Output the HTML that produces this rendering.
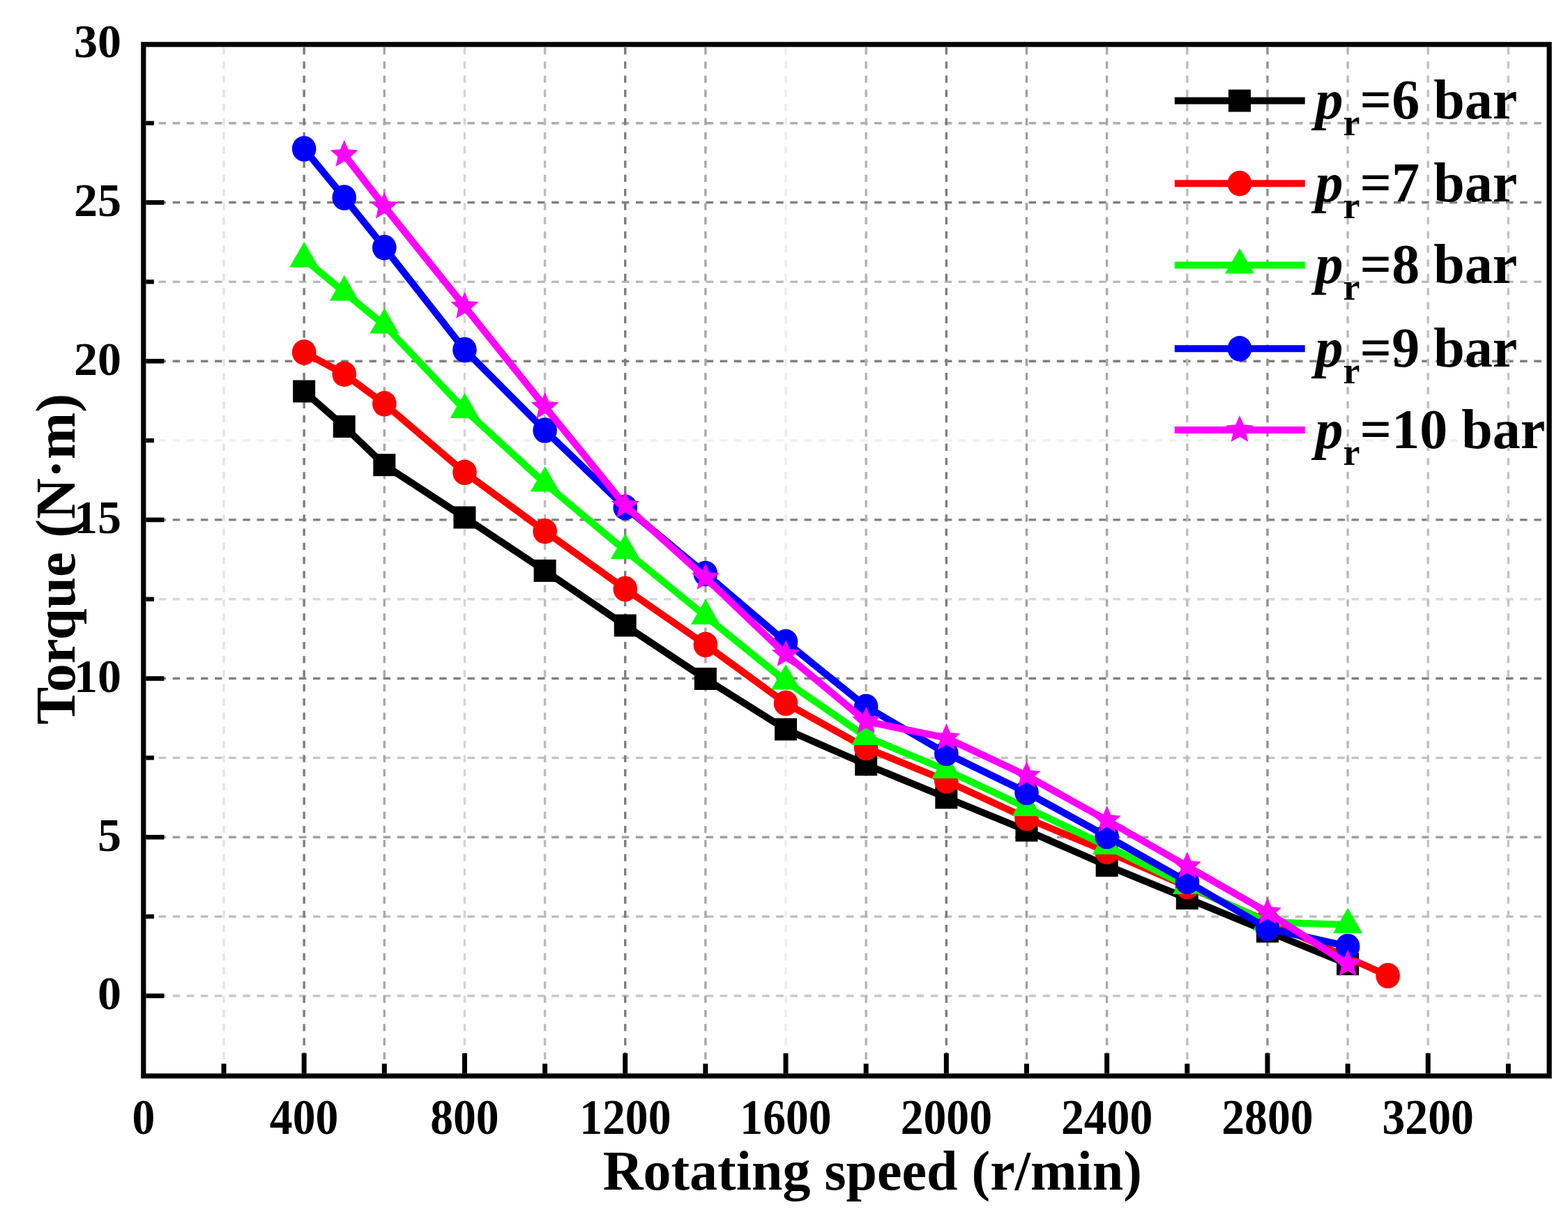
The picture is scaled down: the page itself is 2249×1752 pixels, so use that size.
<!DOCTYPE html>
<html><head><meta charset="utf-8"><title>Torque vs Rotating speed</title>
<style>
html,body{margin:0;padding:0;background:#fff;}
svg{display:block;}
text{font-family:"Liberation Serif","Times New Roman",serif;font-weight:bold;fill:#000;}
</style></head><body>
<svg width="2249" height="1752" viewBox="0 0 2249 1752">
<rect x="0" y="0" width="2249" height="1752" fill="#fff"/>
<g fill="none" stroke-width="3.4">
<line x1="209.4" y1="176.69" x2="2218.5" y2="176.69" stroke="#acacac" stroke-dasharray="10.5 9.63" stroke-dashoffset="2.0"/>
<line x1="209.4" y1="290.53" x2="2218.5" y2="290.53" stroke="#808080" stroke-dasharray="10.5 9.63" stroke-dashoffset="2.0"/>
<line x1="209.4" y1="404.37" x2="2218.5" y2="404.37" stroke="#b8b8b8" stroke-dasharray="10.5 9.63" stroke-dashoffset="2.0"/>
<line x1="209.4" y1="518.21" x2="2218.5" y2="518.21" stroke="#808080" stroke-dasharray="10.5 9.63" stroke-dashoffset="2.0"/>
<line x1="209.4" y1="632.05" x2="2218.5" y2="632.05" stroke="#f0f0f0" stroke-dasharray="10.5 9.63" stroke-dashoffset="2.0"/>
<line x1="209.4" y1="745.89" x2="2218.5" y2="745.89" stroke="#808080" stroke-dasharray="10.5 9.63" stroke-dashoffset="2.0"/>
<line x1="209.4" y1="859.73" x2="2218.5" y2="859.73" stroke="#d8d8d8" stroke-dasharray="10.5 9.63" stroke-dashoffset="2.0"/>
<line x1="209.4" y1="973.57" x2="2218.5" y2="973.57" stroke="#808080" stroke-dasharray="10.5 9.63" stroke-dashoffset="2.0"/>
<line x1="209.4" y1="1087.41" x2="2218.5" y2="1087.41" stroke="#c4c4c4" stroke-dasharray="10.5 9.63" stroke-dashoffset="2.0"/>
<line x1="209.4" y1="1201.25" x2="2218.5" y2="1201.25" stroke="#a0a0a0" stroke-dasharray="10.5 9.63" stroke-dashoffset="2.0"/>
<line x1="209.4" y1="1315.09" x2="2218.5" y2="1315.09" stroke="#bcbcbc" stroke-dasharray="10.5 9.63" stroke-dashoffset="2.0"/>
<line x1="209.4" y1="1428.93" x2="2218.5" y2="1428.93" stroke="#c8c8c8" stroke-dasharray="10.5 9.63" stroke-dashoffset="2.0"/>
<line x1="321.00" y1="67.9" x2="321.00" y2="1540.3" stroke="#e4e4e4" stroke-dasharray="10.3 10.01"/>
<line x1="436.15" y1="67.9" x2="436.15" y2="1540.3" stroke="#7e7e7e" stroke-dasharray="10.3 10.01"/>
<line x1="551.30" y1="67.9" x2="551.30" y2="1540.3" stroke="#a8a8a8" stroke-dasharray="10.3 10.01"/>
<line x1="666.45" y1="67.9" x2="666.45" y2="1540.3" stroke="#d4d4d4" stroke-dasharray="10.3 10.01"/>
<line x1="781.60" y1="67.9" x2="781.60" y2="1540.3" stroke="#bcbcbc" stroke-dasharray="10.3 10.01"/>
<line x1="896.75" y1="67.9" x2="896.75" y2="1540.3" stroke="#7e7e7e" stroke-dasharray="10.3 10.01"/>
<line x1="1011.90" y1="67.9" x2="1011.90" y2="1540.3" stroke="#a8a8a8" stroke-dasharray="10.3 10.01"/>
<line x1="1127.05" y1="67.9" x2="1127.05" y2="1540.3" stroke="#ededed" stroke-dasharray="10.3 10.01"/>
<line x1="1242.20" y1="67.9" x2="1242.20" y2="1540.3" stroke="#b4b4b4" stroke-dasharray="10.3 10.01"/>
<line x1="1357.35" y1="67.9" x2="1357.35" y2="1540.3" stroke="#7e7e7e" stroke-dasharray="10.3 10.01"/>
<line x1="1472.50" y1="67.9" x2="1472.50" y2="1540.3" stroke="#a0a0a0" stroke-dasharray="10.3 10.01"/>
<line x1="1587.65" y1="67.9" x2="1587.65" y2="1540.3" stroke="#a8a8a8" stroke-dasharray="10.3 10.01"/>
<line x1="1702.80" y1="67.9" x2="1702.80" y2="1540.3" stroke="#bcbcbc" stroke-dasharray="10.3 10.01"/>
<line x1="1817.95" y1="67.9" x2="1817.95" y2="1540.3" stroke="#909090" stroke-dasharray="10.3 10.01"/>
<line x1="1933.10" y1="67.9" x2="1933.10" y2="1540.3" stroke="#b8b8b8" stroke-dasharray="10.3 10.01"/>
<line x1="2048.25" y1="67.9" x2="2048.25" y2="1540.3" stroke="#c0c0c0" stroke-dasharray="10.3 10.01"/>
<line x1="2163.40" y1="67.9" x2="2163.40" y2="1540.3" stroke="#c4c4c4" stroke-dasharray="10.3 10.01"/>
</g>
<g fill="#000">
<rect x="209.4" y="1425.63" width="26" height="6.6"/>
<rect x="209.4" y="1197.95" width="26" height="6.6"/>
<rect x="209.4" y="970.27" width="26" height="6.6"/>
<rect x="209.4" y="742.59" width="26" height="6.6"/>
<rect x="209.4" y="514.91" width="26" height="6.6"/>
<rect x="209.4" y="287.23" width="26" height="6.6"/>
<rect x="209.4" y="1311.99" width="11.5" height="6.2"/>
<rect x="209.4" y="1084.31" width="11.5" height="6.2"/>
<rect x="209.4" y="856.63" width="11.5" height="6.2"/>
<rect x="209.4" y="628.95" width="11.5" height="6.2"/>
<rect x="209.4" y="401.27" width="11.5" height="6.2"/>
<rect x="209.4" y="173.59" width="11.5" height="6.2"/>
<rect x="432.65" y="1511.3" width="7" height="29"/>
<rect x="662.95" y="1511.3" width="7" height="29"/>
<rect x="893.25" y="1511.3" width="7" height="29"/>
<rect x="1123.55" y="1511.3" width="7" height="29"/>
<rect x="1353.85" y="1511.3" width="7" height="29"/>
<rect x="1584.15" y="1511.3" width="7" height="29"/>
<rect x="1814.45" y="1511.3" width="7" height="29"/>
<rect x="2044.75" y="1511.3" width="7" height="29"/>
<rect x="317.50" y="1526.3" width="7" height="14"/>
<rect x="547.80" y="1526.3" width="7" height="14"/>
<rect x="778.10" y="1526.3" width="7" height="14"/>
<rect x="1008.40" y="1526.3" width="7" height="14"/>
<rect x="1238.70" y="1526.3" width="7" height="14"/>
<rect x="1469.00" y="1526.3" width="7" height="14"/>
<rect x="1699.30" y="1526.3" width="7" height="14"/>
<rect x="1929.60" y="1526.3" width="7" height="14"/>
<rect x="2159.90" y="1526.3" width="7" height="14"/>
</g>
<rect x="205.8" y="63.8" width="2016.3" height="1480.1" fill="none" stroke="#000" stroke-width="7.2"/>
<g>
<polyline points="436.15,561.50 493.73,612.00 551.30,667.20 666.45,742.50 781.60,818.90 896.75,897.50 1011.90,974.00 1127.05,1046.50 1242.20,1097.00 1357.35,1144.50 1472.50,1191.60 1587.65,1242.00 1702.80,1289.00 1817.95,1336.50 1933.10,1383.30" fill="none" stroke="#000000" stroke-width="10" stroke-linejoin="miter" stroke-miterlimit="3"/>
<rect x="420.15" y="545.50" width="32" height="32" fill="#000000"/>
<rect x="477.73" y="596.00" width="32" height="32" fill="#000000"/>
<rect x="535.30" y="651.20" width="32" height="32" fill="#000000"/>
<rect x="650.45" y="726.50" width="32" height="32" fill="#000000"/>
<rect x="765.60" y="802.90" width="32" height="32" fill="#000000"/>
<rect x="880.75" y="881.50" width="32" height="32" fill="#000000"/>
<rect x="995.90" y="958.00" width="32" height="32" fill="#000000"/>
<rect x="1111.05" y="1030.50" width="32" height="32" fill="#000000"/>
<rect x="1226.20" y="1081.00" width="32" height="32" fill="#000000"/>
<rect x="1341.35" y="1128.50" width="32" height="32" fill="#000000"/>
<rect x="1456.50" y="1175.60" width="32" height="32" fill="#000000"/>
<rect x="1571.65" y="1226.00" width="32" height="32" fill="#000000"/>
<rect x="1686.80" y="1273.00" width="32" height="32" fill="#000000"/>
<rect x="1801.95" y="1320.50" width="32" height="32" fill="#000000"/>
<rect x="1917.10" y="1367.30" width="32" height="32" fill="#000000"/>
<polyline points="436.15,505.50 493.73,536.70 551.30,579.30 666.45,677.80 781.60,762.20 896.75,845.00 1011.90,925.00 1127.05,1009.00 1242.20,1073.00 1357.35,1120.50 1472.50,1174.00 1587.65,1222.00 1702.80,1272.00 1817.95,1322.00 1990.67,1400.00" fill="none" stroke="#ff0000" stroke-width="10" stroke-linejoin="miter" stroke-miterlimit="3"/>
<ellipse cx="436.15" cy="505.50" rx="17.3" ry="18.3" fill="#ff0000"/>
<ellipse cx="493.73" cy="536.70" rx="17.3" ry="18.3" fill="#ff0000"/>
<ellipse cx="551.30" cy="579.30" rx="17.3" ry="18.3" fill="#ff0000"/>
<ellipse cx="666.45" cy="677.80" rx="17.3" ry="18.3" fill="#ff0000"/>
<ellipse cx="781.60" cy="762.20" rx="17.3" ry="18.3" fill="#ff0000"/>
<ellipse cx="896.75" cy="845.00" rx="17.3" ry="18.3" fill="#ff0000"/>
<ellipse cx="1011.90" cy="925.00" rx="17.3" ry="18.3" fill="#ff0000"/>
<ellipse cx="1127.05" cy="1009.00" rx="17.3" ry="18.3" fill="#ff0000"/>
<ellipse cx="1242.20" cy="1073.00" rx="17.3" ry="18.3" fill="#ff0000"/>
<ellipse cx="1357.35" cy="1120.50" rx="17.3" ry="18.3" fill="#ff0000"/>
<ellipse cx="1472.50" cy="1174.00" rx="17.3" ry="18.3" fill="#ff0000"/>
<ellipse cx="1587.65" cy="1222.00" rx="17.3" ry="18.3" fill="#ff0000"/>
<ellipse cx="1702.80" cy="1272.00" rx="17.3" ry="18.3" fill="#ff0000"/>
<ellipse cx="1817.95" cy="1322.00" rx="17.3" ry="18.3" fill="#ff0000"/>
<ellipse cx="1990.67" cy="1400.00" rx="17.3" ry="18.3" fill="#ff0000"/>
<polyline points="436.15,371.30 493.73,419.30 551.30,466.30 666.45,588.00 781.60,693.50 896.75,790.00 1011.90,884.00 1127.05,977.50 1242.20,1057.00 1357.35,1105.00 1472.50,1159.00 1587.65,1214.00 1702.80,1271.00 1817.95,1323.00 1933.10,1327.00" fill="none" stroke="#00ff00" stroke-width="10" stroke-linejoin="miter" stroke-miterlimit="3"/>
<polygon points="436.15,347.10 457.11,383.40 415.19,383.40" fill="#00ff00"/>
<polygon points="493.73,395.10 514.68,431.40 472.77,431.40" fill="#00ff00"/>
<polygon points="551.30,442.10 572.26,478.40 530.34,478.40" fill="#00ff00"/>
<polygon points="666.45,563.80 687.41,600.10 645.49,600.10" fill="#00ff00"/>
<polygon points="781.60,669.30 802.56,705.60 760.64,705.60" fill="#00ff00"/>
<polygon points="896.75,765.80 917.71,802.10 875.79,802.10" fill="#00ff00"/>
<polygon points="1011.90,859.80 1032.86,896.10 990.94,896.10" fill="#00ff00"/>
<polygon points="1127.05,953.30 1148.01,989.60 1106.09,989.60" fill="#00ff00"/>
<polygon points="1242.20,1032.80 1263.16,1069.10 1221.24,1069.10" fill="#00ff00"/>
<polygon points="1357.35,1080.80 1378.31,1117.10 1336.39,1117.10" fill="#00ff00"/>
<polygon points="1472.50,1134.80 1493.46,1171.10 1451.54,1171.10" fill="#00ff00"/>
<polygon points="1587.65,1189.80 1608.61,1226.10 1566.69,1226.10" fill="#00ff00"/>
<polygon points="1702.80,1246.80 1723.76,1283.10 1681.84,1283.10" fill="#00ff00"/>
<polygon points="1817.95,1298.80 1838.91,1335.10 1796.99,1335.10" fill="#00ff00"/>
<polygon points="1933.10,1302.80 1954.06,1339.10 1912.14,1339.10" fill="#00ff00"/>
<polyline points="436.15,213.50 493.73,283.50 551.30,355.20 666.45,502.00 781.60,617.50 896.75,728.00 1011.90,823.00 1127.05,921.00 1242.20,1014.00 1357.35,1081.00 1472.50,1137.00 1587.65,1200.00 1702.80,1265.00 1817.95,1332.00 1933.10,1358.00" fill="none" stroke="#0000ff" stroke-width="10" stroke-linejoin="miter" stroke-miterlimit="3"/>
<ellipse cx="436.15" cy="213.50" rx="17.3" ry="18.3" fill="#0000ff"/>
<ellipse cx="493.73" cy="283.50" rx="17.3" ry="18.3" fill="#0000ff"/>
<ellipse cx="551.30" cy="355.20" rx="17.3" ry="18.3" fill="#0000ff"/>
<ellipse cx="666.45" cy="502.00" rx="17.3" ry="18.3" fill="#0000ff"/>
<ellipse cx="781.60" cy="617.50" rx="17.3" ry="18.3" fill="#0000ff"/>
<ellipse cx="896.75" cy="728.00" rx="17.3" ry="18.3" fill="#0000ff"/>
<ellipse cx="1011.90" cy="823.00" rx="17.3" ry="18.3" fill="#0000ff"/>
<ellipse cx="1127.05" cy="921.00" rx="17.3" ry="18.3" fill="#0000ff"/>
<ellipse cx="1242.20" cy="1014.00" rx="17.3" ry="18.3" fill="#0000ff"/>
<ellipse cx="1357.35" cy="1081.00" rx="17.3" ry="18.3" fill="#0000ff"/>
<ellipse cx="1472.50" cy="1137.00" rx="17.3" ry="18.3" fill="#0000ff"/>
<ellipse cx="1587.65" cy="1200.00" rx="17.3" ry="18.3" fill="#0000ff"/>
<ellipse cx="1702.80" cy="1265.00" rx="17.3" ry="18.3" fill="#0000ff"/>
<ellipse cx="1817.95" cy="1332.00" rx="17.3" ry="18.3" fill="#0000ff"/>
<ellipse cx="1933.10" cy="1358.00" rx="17.3" ry="18.3" fill="#0000ff"/>
<polyline points="493.73,222.00 551.30,296.40 666.45,439.80 781.60,583.70 896.75,725.50 1011.90,829.00 1127.05,939.00 1242.20,1035.00 1357.35,1058.90 1472.50,1113.00 1587.65,1177.00 1702.80,1243.00 1817.95,1309.00 1933.10,1383.50" fill="none" stroke="#ff00ff" stroke-width="10" stroke-linejoin="miter" stroke-miterlimit="3"/>
<polygon points="493.73,201.00 499.37,214.23 513.70,215.51 502.86,224.97 506.07,238.99 493.73,231.60 481.38,238.99 484.59,224.97 473.75,215.51 488.08,214.23" fill="#ff00ff"/>
<polygon points="551.30,275.40 556.94,288.63 571.27,289.91 560.43,299.37 563.64,313.39 551.30,306.00 538.96,313.39 542.17,299.37 531.33,289.91 545.66,288.63" fill="#ff00ff"/>
<polygon points="666.45,418.80 672.09,432.03 686.42,433.31 675.58,442.77 678.79,456.79 666.45,449.40 654.11,456.79 657.32,442.77 646.48,433.31 660.81,432.03" fill="#ff00ff"/>
<polygon points="781.60,562.70 787.24,575.93 801.57,577.21 790.73,586.67 793.94,600.69 781.60,593.30 769.26,600.69 772.47,586.67 761.63,577.21 775.96,575.93" fill="#ff00ff"/>
<polygon points="896.75,704.50 902.39,717.73 916.72,719.01 905.88,728.47 909.09,742.49 896.75,735.10 884.41,742.49 887.62,728.47 876.78,719.01 891.11,717.73" fill="#ff00ff"/>
<polygon points="1011.90,808.00 1017.54,821.23 1031.87,822.51 1021.03,831.97 1024.24,845.99 1011.90,838.60 999.56,845.99 1002.77,831.97 991.93,822.51 1006.26,821.23" fill="#ff00ff"/>
<polygon points="1127.05,918.00 1132.69,931.23 1147.02,932.51 1136.18,941.97 1139.39,955.99 1127.05,948.60 1114.71,955.99 1117.92,941.97 1107.08,932.51 1121.41,931.23" fill="#ff00ff"/>
<polygon points="1242.20,1014.00 1247.84,1027.23 1262.17,1028.51 1251.33,1037.97 1254.54,1051.99 1242.20,1044.60 1229.86,1051.99 1233.07,1037.97 1222.23,1028.51 1236.56,1027.23" fill="#ff00ff"/>
<polygon points="1357.35,1037.90 1362.99,1051.13 1377.32,1052.41 1366.48,1061.87 1369.69,1075.89 1357.35,1068.50 1345.01,1075.89 1348.22,1061.87 1337.38,1052.41 1351.71,1051.13" fill="#ff00ff"/>
<polygon points="1472.50,1092.00 1478.14,1105.23 1492.47,1106.51 1481.63,1115.97 1484.84,1129.99 1472.50,1122.60 1460.16,1129.99 1463.37,1115.97 1452.53,1106.51 1466.86,1105.23" fill="#ff00ff"/>
<polygon points="1587.65,1156.00 1593.29,1169.23 1607.62,1170.51 1596.78,1179.97 1599.99,1193.99 1587.65,1186.60 1575.31,1193.99 1578.52,1179.97 1567.68,1170.51 1582.01,1169.23" fill="#ff00ff"/>
<polygon points="1702.80,1222.00 1708.44,1235.23 1722.77,1236.51 1711.93,1245.97 1715.14,1259.99 1702.80,1252.60 1690.46,1259.99 1693.67,1245.97 1682.83,1236.51 1697.16,1235.23" fill="#ff00ff"/>
<polygon points="1817.95,1288.00 1823.59,1301.23 1837.92,1302.51 1827.08,1311.97 1830.29,1325.99 1817.95,1318.60 1805.61,1325.99 1808.82,1311.97 1797.98,1302.51 1812.31,1301.23" fill="#ff00ff"/>
<polygon points="1933.10,1362.50 1938.74,1375.73 1953.07,1377.01 1942.23,1386.47 1945.44,1400.49 1933.10,1393.10 1920.76,1400.49 1923.97,1386.47 1913.13,1377.01 1927.46,1375.73" fill="#ff00ff"/>
</g>
<line x1="1684.8" y1="144.5" x2="1871.7" y2="144.5" stroke="#000000" stroke-width="10"/>
<rect x="1762.00" y="128.50" width="32" height="32" fill="#000000"/>
<line x1="1684.8" y1="263.2" x2="1871.7" y2="263.2" stroke="#ff0000" stroke-width="10"/>
<ellipse cx="1778.00" cy="263.20" rx="17.3" ry="18.3" fill="#ff0000"/>
<line x1="1684.8" y1="380.5" x2="1871.7" y2="380.5" stroke="#00ff00" stroke-width="10"/>
<polygon points="1778.00,356.30 1798.96,392.60 1757.04,392.60" fill="#00ff00"/>
<line x1="1684.8" y1="500.3" x2="1871.7" y2="500.3" stroke="#0000ff" stroke-width="10"/>
<ellipse cx="1778.00" cy="500.30" rx="17.3" ry="18.3" fill="#0000ff"/>
<line x1="1684.8" y1="617.1" x2="1871.7" y2="617.1" stroke="#ff00ff" stroke-width="10"/>
<polygon points="1778.00,596.10 1783.64,609.33 1797.97,610.61 1787.13,620.07 1790.34,634.09 1778.00,626.70 1765.66,634.09 1768.87,620.07 1758.03,610.61 1772.36,609.33" fill="#ff00ff"/>
<g>
<g font-size="68">
<text x="174" y="1448.4" text-anchor="end">0</text>
<text x="174" y="1220.8" text-anchor="end">5</text>
<text x="174" y="993.1" text-anchor="end">10</text>
<text x="174" y="765.4" text-anchor="end">15</text>
<text x="174" y="537.7" text-anchor="end">20</text>
<text x="174" y="310.0" text-anchor="end">25</text>
<text x="174" y="82.0" text-anchor="end">30</text>
</g><g font-size="71">
<text transform="translate(205.8,1626.5) scale(0.925,1)" text-anchor="middle">0</text>
<text transform="translate(436.1,1626.5) scale(0.925,1)" text-anchor="middle">400</text>
<text transform="translate(666.4,1626.5) scale(0.925,1)" text-anchor="middle">800</text>
<text transform="translate(896.8,1626.5) scale(0.925,1)" text-anchor="middle">1200</text>
<text transform="translate(1127.0,1626.5) scale(0.925,1)" text-anchor="middle">1600</text>
<text transform="translate(1357.3,1626.5) scale(0.925,1)" text-anchor="middle">2000</text>
<text transform="translate(1587.6,1626.5) scale(0.925,1)" text-anchor="middle">2400</text>
<text transform="translate(1817.9,1626.5) scale(0.925,1)" text-anchor="middle">2800</text>
<text transform="translate(2048.2,1626.5) scale(0.925,1)" text-anchor="middle">3200</text>
</g>
<text x="1251.3" y="1706.9" font-size="80" text-anchor="middle">Rotating speed (r/min)</text>
<text transform="translate(106.5,802.3) rotate(-90)" x="0" y="0" font-size="81" text-anchor="middle">Torque (N·m)</text>
<text x="1886.6" y="170.0" font-size="80"><tspan font-style="italic">p</tspan><tspan font-size="54" dy="24">r</tspan><tspan dy="-24">=6 bar</tspan></text>
<text x="1886.6" y="288.7" font-size="80"><tspan font-style="italic">p</tspan><tspan font-size="54" dy="24">r</tspan><tspan dy="-24">=7 bar</tspan></text>
<text x="1886.6" y="406.0" font-size="80"><tspan font-style="italic">p</tspan><tspan font-size="54" dy="24">r</tspan><tspan dy="-24">=8 bar</tspan></text>
<text x="1886.6" y="525.8" font-size="80"><tspan font-style="italic">p</tspan><tspan font-size="54" dy="24">r</tspan><tspan dy="-24">=9 bar</tspan></text>
<text x="1886.6" y="642.6" font-size="80"><tspan font-style="italic">p</tspan><tspan font-size="54" dy="24">r</tspan><tspan dy="-24">=10 bar</tspan></text>
</g>
</svg></body></html>
